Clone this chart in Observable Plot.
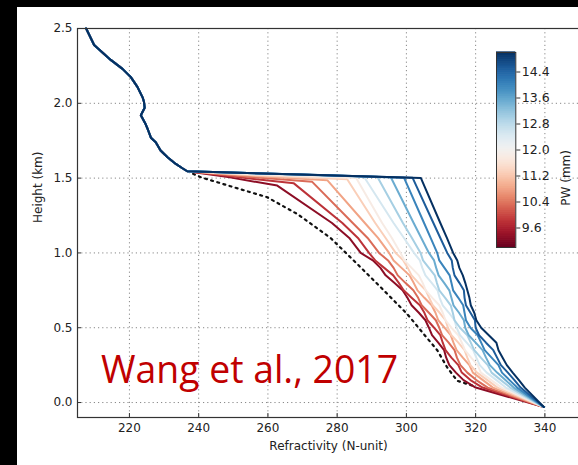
<!DOCTYPE html>
<html><head><meta charset="utf-8">
<script src="https://cdn.jsdelivr.net/npm/d3@7"></script>
<script src="https://cdn.jsdelivr.net/npm/@observablehq/plot@0.6"></script>
<style>
html,body{margin:0;padding:0;background:#000;width:578px;height:465px;overflow:hidden;}
#wrap{position:absolute;left:17px;top:7px;width:561px;height:458px;background:#fff;overflow:hidden;}
#wrap > *{position:absolute;left:0;top:0;}
</style></head><body><div id="wrap"></div>
<script>
// ---- data ----
const xTicks = [220, 240, 260, 280, 300, 320, 340];
const yTicks = [0.0, 0.5, 1.0, 1.5, 2.0, 2.5];
const cbTicks = [9.6, 10.4, 11.2, 12.0, 12.8, 13.6, 14.4];
const xLabel = "Refractivity (N-unit)";
const yLabel = "Height (km)";
const cbLabel = "PW (mm)";
const annotation = "Wang et al., 2017";

// common upper profile (N-unit, km)
const topN = [207.5, 209.8, 212.2, 214.6, 218, 220.4, 222.3, 223.8, 224.2, 224.4, 223.3, 224.7, 225.4, 226.2, 227.6, 229, 231, 233.4, 235.3, 236.7];
const topH = [2.5, 2.39, 2.34, 2.29, 2.23, 2.175, 2.11, 2.04, 2.01, 1.97, 1.92, 1.86, 1.82, 1.77, 1.74, 1.685, 1.64, 1.595, 1.566, 1.546];

// precipitable water of each profile (mm)
const pwValues = [9.3, 9.8, 10.3, 10.8, 11.3, 11.8, 12.5, 13.0, 13.5, 14.0, 14.5, 15.0];
const midX = [249, 250, 251, 252, 254, 255, 262, 264, 266, 268, 270, 272];
const midY = [1.505, 1.51, 1.515, 1.52, 1.522, 1.525, 1.529, 1.528, 1.526, 1.5245, 1.5235, 1.522];
const breakX = [262.7, 267.5, 272.8, 277.2, 282.9, 285.5, 287.7, 291.6, 295.5, 299.3, 301.8, 304.2];
const breakY = [1.45, 1.465, 1.475, 1.485, 1.492, 1.50, 1.511, 1.509, 1.506, 1.503, 1.502, 1.50];

const profileLevels = [1.2, 1.1, 1.0, 0.95, 0.9, 0.85, 0.8, 0.75, 0.7, 0.65, 0.6, 0.55, 0.5, 0.45, 0.4, 0.35, 0.3, 0.25, 0.2, 0.15, 0.1];
const profileX = [
  [278.5,283.5,286.8,290.3,292.5,294.0,296.5,298.9,300.3,301.5,303.6,305.5,306.5,307.4,309.2,310.9,311.5,312.4,314.3,316.5,320],
  [281.5,286,289.2,291.0,293.6,296.2,297.8,299.2,301.5,303.9,305.2,306.1,308,309.8,310.5,311.3,313,315.0,316,318.5,322],
  [284.5,288.8,292.1,294.7,296.3,297.5,299.7,302.0,303.4,304.4,306.5,308.5,309.5,310.3,312.2,313.9,314.6,315.6,317.6,320.2,323.5],
  [288,291.8,295,296.3,298.6,300.9,302.1,303.2,305.2,307.3,308.4,309.2,311,312.8,313.6,314.5,316.3,318.2,319.2,322.1,325],
  [291,294,296.9,299.1,300.4,301.5,303.5,305.6,306.6,307.6,309.6,311.3,312,313.0,315,316.8,317.6,318.5,320.4,323.4,326.3],
  [293,295.8,298.3,299.4,301.5,303.6,304.7,305.6,307.5,309.5,310.5,311.3,313,315.0,316,316.9,318.7,320.6,321.5,324.5,327.5],
  [296.3,299.3,302.2,303.9,304.6,305.5,307.3,309.0,309.6,310.5,312.3,313.9,314.5,315.5,317.4,319.3,320.2,321.2,323.2,326,328.7],
  [299,301.6,304.1,304.8,306.5,308.2,308.8,309.5,311.2,312.8,313.4,313.9,315.5,317.6,318.6,319.6,321.5,323.5,324.6,327.3,330],
  [302.1,304.3,306.5,308.0,308.6,309.3,310.9,312.4,313,313.6,315.2,316.6,317,318.0,320,322.0,323,324.1,326.2,328.6,331],
  [305.1,307,308.9,309.5,311,312.5,313,313.5,315,316.4,316.8,317.2,318.5,320.6,321.6,322.6,324.6,326.6,327.6,329.8,332],
  [307.8,309.8,311.8,313.1,313.4,313.9,315.3,316.6,316.8,317.2,318.5,319.8,320,321.0,323,325.1,326.2,327.3,329.3,331.2,333],
  [309.8,311.7,313.5,314.7,315.3,316.3,317,317.6,318.2,318.6,319.6,320.2,321.6,323.8,326.0,326.6,327.8,329.0,330.7,332.5,334.2]
];
const surfaceN = 339.7, surfaceH = -0.03;

// dotted reference profile
const dottedN = [236.7, 240.6, 250, 259.8, 268.5, 278.1, 285.8, 292.6, 300.3, 303.5, 306, 308.9, 311.8, 314.7, 319.5];
const dottedH = [1.546, 1.506, 1.44, 1.372, 1.26, 1.10, 0.926, 0.77, 0.59, 0.5, 0.43, 0.35, 0.234, 0.145, 0.11];

// ---- tables ----
const rows = [];
pwValues.forEach((pw, i) => {
  topN.forEach((n, j) => rows.push({pw, n, h: topH[j]}));
  rows.push({pw, n: midX[i], h: midY[i]});
  rows.push({pw, n: breakX[i], h: breakY[i]});
  profileLevels.forEach((h, j) => rows.push({pw, n: profileX[i][j], h}));
  rows.push({pw, n: surfaceN, h: surfaceH});
});
const dotted = dottedN.map((n, j) => ({n, h: dottedH[j]}));

const font = "DejaVu Sans";
const colorOpt = {type: "linear", scheme: "RdBu", domain: [9, 15]};

const main = Plot.plot({
  width: 561, height: 458,
  marginLeft: 60, marginTop: 21, marginBottom: 48, marginRight: -1,
  style: {fontFamily: font, fontSize: "12px", color: "#222", background: "transparent"},
  x: {domain: [205, 350]},
  y: {domain: [-0.1, 2.5]},
  color: colorOpt,
  marks: [
    Plot.gridX(xTicks, {stroke: "#888", strokeOpacity: 1, strokeDasharray: "1.2,3"}),
    Plot.gridY(yTicks, {stroke: "#888", strokeOpacity: 1, strokeDasharray: "1.2,3"}),
    Plot.line(dotted, {x: "n", y: "h", stroke: "#111", strokeWidth: 2.2, strokeDasharray: "2,4.4"}),
    Plot.line(rows, {x: "n", y: "h", z: "pw", stroke: "pw", strokeWidth: 2, strokeLinejoin: "round"}),
    Plot.axisX(xTicks, {tickSize: -4, tickPadding: 10, fontSize: 12, stroke: "#333", label: null}),
    Plot.axisY(yTicks, {tickSize: -4, tickPadding: 9, fontSize: 12, tickFormat: ".1f", stroke: "#333", label: null}),
    Plot.text([xLabel], {frameAnchor: "bottom", dy: 32, text: d => d, fontSize: 12, fill: "#222"}),
    Plot.text([yLabel], {frameAnchor: "left", rotate: -90, dx: -39, text: d => d, fontSize: 12, fill: "#222"}),
    Plot.frame({stroke: "#333", strokeWidth: 1.2})
  ]
});

const cbSteps = d3.range(9, 15, 0.02);
const cb = Plot.plot({
  width: 80, height: 197,
  marginTop: 1, marginBottom: 1, marginLeft: 0, marginRight: 60.7,
  style: {fontFamily: font, fontSize: "12px", color: "#222", background: "transparent", overflow: "visible"},
  y: {domain: [9, 15], axis: null},
  color: colorOpt,
  marks: [
    Plot.rect(cbSteps, {y1: d => d, y2: d => d + 0.04, fill: d => d + 0.01}),
    Plot.frame({stroke: "#333", strokeWidth: 1}),
    Plot.axisY(cbTicks, {anchor: "right", tickSize: 4, tickPadding: 2, tickFormat: ".1f", label: null, stroke: "#333", fontSize: 12.5}),
    Plot.text([cbLabel], {frameAnchor: "right", rotate: -90, dx: 50, text: d => d, fontSize: 12, fill: "#222"})
  ]
});

const wrap = document.getElementById("wrap");
wrap.appendChild(main);
cb.style.left = "478.7px";
cb.style.top = "43.7px";
wrap.appendChild(cb);

// annotation
const ann = d3.create("svg").attr("width", 561).attr("height", 458).style("overflow", "visible");
ann.append("text").attr("x", 84).attr("y", 375.7)
  .attr("font-family", "Open Sans").attr("font-size", 39).attr("fill", "#c00000")
  .attr("textLength", 297).attr("lengthAdjust", "spacingAndGlyphs")
  .text(annotation);
wrap.appendChild(ann.node());
</script></body></html>
